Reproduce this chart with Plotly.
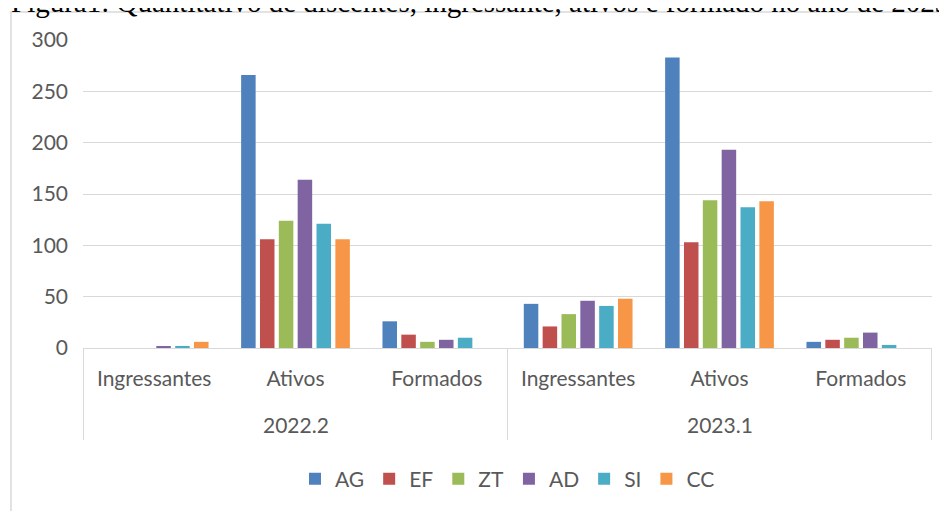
import plotly.graph_objects as go

years = ["2022.2", "2022.2", "2022.2", "2023.1", "2023.1", "2023.1"]
stages = ["Ingressantes", "Ativos", "Formados", "Ingressantes", "Ativos", "Formados"]

series_names = ["AG", "EF", "ZT", "AD", "SI", "CC"]
AG = [0, 266, 26, 43, 283, 6]
EF = [0, 106, 13, 21, 103, 8]
ZT = [0, 124, 6, 33, 144, 10]
AD = [1, 164, 8, 46, 193, 15]
SI = [2, 121, 10, 41, 137, 3]
CC = [6, 106, 0, 48, 143, 0]
series_values = [AG, EF, ZT, AD, SI, CC]
colors = ["#4F81BD", "#C0504D", "#9BBB59", "#8064A2", "#4BACC6", "#F79646"]

y_ticks = [0, 50, 100, 150, 200, 250, 300]
title_text = "Figura1: Quantitativo de discentes, ingressante, ativos e formado no ano de 2023"

# category keys (unique) built from the data
keys = [f"{y} {s}" for y, s in zip(years, stages)]

# figure sits inside the page's 8px body margin
W, H = 939, 503
ml, mr, mt, mb = 75, 15, 32, 163
pw = W - ml - mr
ph = H - mt - mb


def py(fig_y):
    """figure pixel y -> paper y"""
    return (mt + ph - fig_y) / ph


def px(fig_x):
    return (fig_x - ml) / pw


fig = go.Figure()
for name, vals, col in zip(series_names, series_values, colors):
    fig.add_trace(go.Bar(name=name, x=keys, y=vals, marker_color=col,
                         marker_line_width=0))

font_family = "Lato, 'Open Sans', sans-serif"
grey = "#595959"
line_grey = "#D9D9D9"
fig.update_layout(
    width=W, height=H,
    margin=dict(l=ml, r=mr, t=mt, b=mb, autoexpand=False),
    paper_bgcolor="white", plot_bgcolor="white",
    barmode="group", bargap=0.2, bargroupgap=0.23,
    font=dict(family=font_family, size=21, color=grey),
    showlegend=True,
    legend=dict(orientation="h", x=0.5, xanchor="center", y=py(471), yanchor="middle",
                font=dict(size=21, color=grey), itemwidth=30, traceorder="normal"),
)
fig.update_yaxes(range=[0, 300], tickvals=y_ticks, showgrid=True, gridcolor=line_grey,
                 gridwidth=1, zeroline=False, showline=False, ticks="",
                 ticklabelstandoff=14, tickfont=dict(size=21, color=grey))
fig.update_xaxes(type="category", categoryorder="array", categoryarray=keys,
                 tickvals=keys, ticktext=stages,
                 showline=True, linecolor=line_grey, linewidth=1,
                 showgrid=False, ticks="", ticklabelstandoff=12,
                 tickfont=dict(size=21, color=grey))

# group labels and dividers of the two-level category axis
group_names = []
for y in years:
    if y not in group_names:
        group_names.append(y)
boundaries = [-0.5]
for g in group_names:
    idx = [i for i, y in enumerate(years) if y == g]
    center = sum(idx) / len(idx)
    fig.add_annotation(text=g, x=center, xref="x", y=py(416), yref="paper",
                       yanchor="middle", showarrow=False,
                       font=dict(size=21, color=grey))
    boundaries.append(max(idx) + 0.5)
for b in boundaries:
    fig.add_shape(type="line", xref="x", yref="paper", x0=b, x1=b,
                  y0=0, y1=py(432), line=dict(color=line_grey, width=1))

# outer frame of the chart
fig.add_shape(type="rect", xref="paper", yref="paper",
              x0=px(3), x1=px(W + 20),
              y0=py(H + 20), y1=py(4),
              line=dict(color=line_grey, width=1.5), fillcolor="rgba(0,0,0,0)", layer="below")

fig.add_annotation(text=title_text,
                   xref="paper", yref="paper", x=px(1), xanchor="left",
                   y=py(12), yanchor="bottom", showarrow=False,
                   font=dict(family="'Liberation Serif', 'Times New Roman', serif", size=29,
                             color="#000000"))

fig.write_html("out.html")
